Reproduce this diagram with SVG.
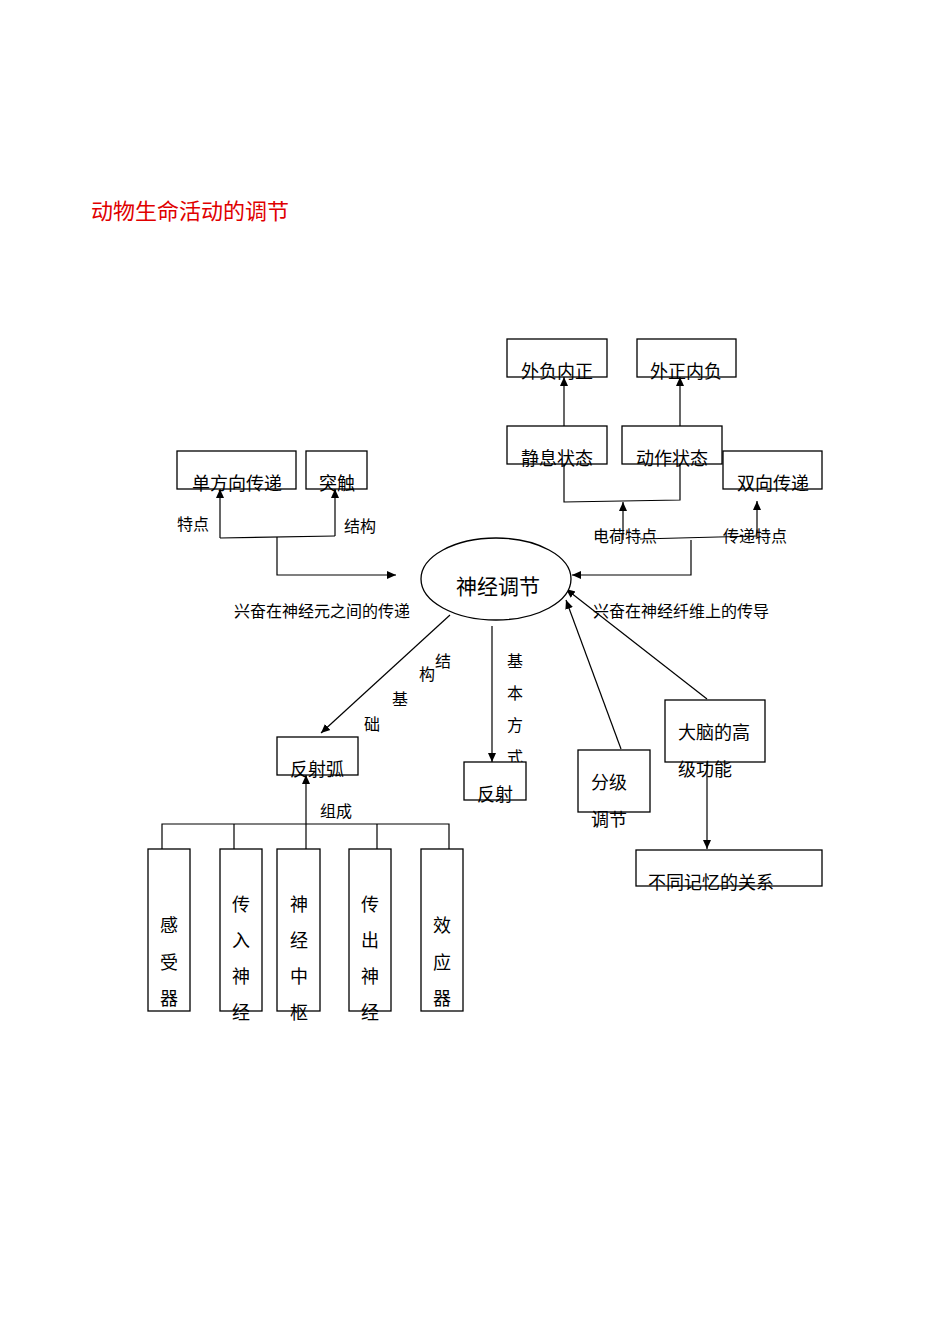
<svg xmlns="http://www.w3.org/2000/svg" width="950" height="1344" viewBox="0 0 950 1344">
<style>
text{font-family:"Liberation Sans","Noto Sans CJK SC",sans-serif;fill:#000}
.b{fill:#fff;stroke:#000;stroke-width:1.3}
.t{font-size:18px}
.s{font-size:16px}
.m{text-anchor:middle}
.c{fill:none;stroke:#000;stroke-width:1.2}
</style>
<defs><marker id="a" markerWidth="10" markerHeight="10" refX="9" refY="5" orient="auto" markerUnits="userSpaceOnUse"><path d="M0,1 L9,5 L0,9 Z" fill="#000"/></marker></defs>
<rect width="950" height="1344" fill="#fff"/>
<text x="91" y="219" style="font-size:22px;fill:#e00000">动物生命活动的调节</text>
<g id="connectors">
<path class="c" d="M564,426 V377" marker-end="url(#a)"/>
<path class="c" d="M680,426 V377" marker-end="url(#a)"/>
<path class="c" d="M564,464 V502 L680,500 V464"/>
<path class="c" d="M623,540 V502" marker-end="url(#a)"/>
<path class="c" d="M640,539 L757,536"/>
<path class="c" d="M757,537 V501" marker-end="url(#a)"/>
<path class="c" d="M691,540 V575 H572" marker-end="url(#a)"/>
<path class="c" d="M220,538 V489" marker-end="url(#a)"/>
<path class="c" d="M220,538 L335,536"/>
<path class="c" d="M335,536 V489" marker-end="url(#a)"/>
<path class="c" d="M277,537 V575 H396" marker-end="url(#a)"/>
<path class="c" d="M450,615 L321,733" marker-end="url(#a)"/>
<path class="c" d="M492,626 V762" marker-end="url(#a)"/>
<path class="c" d="M621,749 L566,600" marker-end="url(#a)"/>
<path class="c" d="M707,699 L566,589" marker-end="url(#a)"/>
<path class="c" d="M707,762 V849" marker-end="url(#a)"/>
<path class="c" d="M162,849 V824 H449 V849 M234,824 V849 M377,824 V849"/>
<path class="c" d="M306,849 V775" marker-end="url(#a)"/>
</g>
<g id="labels" class="s">
<text x="177" y="530">特点</text>
<text x="344" y="532">结构</text>
<text x="593" y="542">电荷特点</text>
<text x="723" y="542">传递特点</text>
<text x="234" y="617">兴奋在神经元之间的传递</text>
<text x="593" y="617">兴奋在神经纤维上的传导</text>
<text x="435" y="667">结</text>
<text x="419" y="680">构</text>
<text x="392" y="705">基</text>
<text x="364" y="730">础</text>
<text x="507" y="667">基</text>
<text x="507" y="699">本</text>
<text x="507" y="731">方</text>
<text x="507" y="763">式</text>
<text x="320" y="817">组成</text>
</g>
<g id="n1"><rect class="b" x="507" y="339" width="100" height="38"/><text class="t m" x="557" y="378">外负内正</text></g>
<g id="n2"><rect class="b" x="637" y="339" width="99" height="38"/><text class="t m" x="686" y="378">外正内负</text></g>
<g id="n3"><rect class="b" x="507" y="426" width="100" height="38"/><text class="t m" x="557" y="465">静息状态</text></g>
<g id="n4"><rect class="b" x="622" y="426" width="100" height="38"/><text class="t m" x="672" y="465">动作状态</text></g>
<g id="n5"><rect class="b" x="723" y="451" width="99" height="38"/><text class="t m" x="773" y="490">双向传递</text></g>
<g id="n6"><rect class="b" x="177" y="451" width="119" height="38"/><text class="t m" x="237" y="490">单方向传递</text></g>
<g id="n7"><rect class="b" x="306" y="451" width="61" height="38"/><text class="t m" x="337" y="490">突触</text></g>
<g id="n8"><ellipse class="b" cx="496" cy="579" rx="75" ry="41"/><text class="m" x="498" y="594" style="font-size:21px">神经调节</text></g>
<g id="n9"><rect class="b" x="277" y="737" width="81" height="38"/><text class="t m" x="317" y="776">反射弧</text></g>
<g id="n10"><rect class="b" x="464" y="762" width="62" height="38"/><text class="t m" x="495" y="801">反射</text></g>
<g id="n11"><rect class="b" x="578" y="750" width="72" height="62"/><text class="t" x="591" y="789">分级</text><text class="t" x="591" y="826">调节</text></g>
<g id="n12"><rect class="b" x="665" y="700" width="100" height="62"/><text class="t" x="678" y="739">大脑的高</text><text class="t" x="678" y="776">级功能</text></g>
<g id="n13"><rect class="b" x="636" y="850" width="186" height="36"/><text class="t" x="648" y="889">不同记忆的关系</text></g>
<g id="n14"><rect class="b" x="148" y="849" width="42" height="162"/><text class="t m" x="169" y="932">感</text><text class="t m" x="169" y="969">受</text><text class="t m" x="169" y="1005">器</text></g>
<g id="n15"><rect class="b" x="220" y="849" width="42" height="162"/><text class="t m" x="241" y="911">传</text><text class="t m" x="241" y="947">入</text><text class="t m" x="241" y="983">神</text><text class="t m" x="241" y="1019">经</text></g>
<g id="n16"><rect class="b" x="277" y="849" width="43" height="162"/><text class="t m" x="299" y="911">神</text><text class="t m" x="299" y="947">经</text><text class="t m" x="299" y="983">中</text><text class="t m" x="299" y="1019">枢</text></g>
<g id="n17"><rect class="b" x="349" y="849" width="42" height="162"/><text class="t m" x="370" y="911">传</text><text class="t m" x="370" y="947">出</text><text class="t m" x="370" y="983">神</text><text class="t m" x="370" y="1019">经</text></g>
<g id="n18"><rect class="b" x="421" y="849" width="42" height="162"/><text class="t m" x="442" y="932">效</text><text class="t m" x="442" y="969">应</text><text class="t m" x="442" y="1005">器</text></g>
</svg>
